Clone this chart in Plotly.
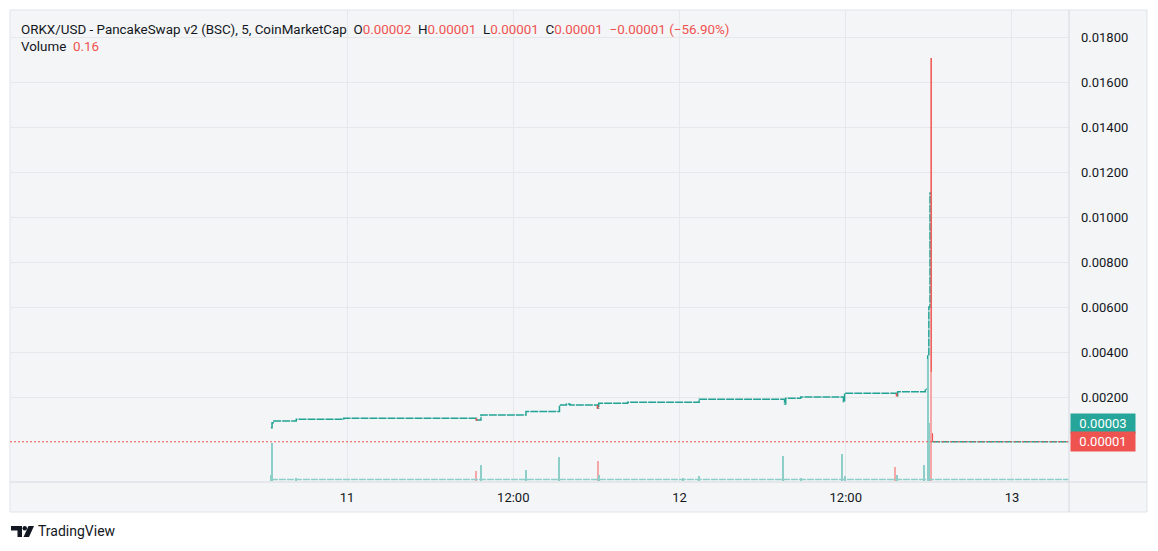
import plotly.graph_objects as go
import pandas as pd

# ---------------- data ----------------
# 5-minute candles, step changes of the close price (ORKX/USD)
price_times = [
    "2024-03-10 18:30", "2024-03-10 18:35", "2024-03-10 18:40", "2024-03-10 20:20",
    "2024-03-10 23:45", "2024-03-11 09:20", "2024-03-11 09:40", "2024-03-11 12:55",
    "2024-03-11 15:20", "2024-03-11 15:50", "2024-03-11 16:05", "2024-03-11 18:05",
    "2024-03-11 18:10", "2024-03-11 20:15", "2024-03-12 01:25", "2024-03-12 07:35",
    "2024-03-12 07:40", "2024-03-12 08:45", "2024-03-12 11:50", "2024-03-12 11:55",
    "2024-03-12 15:40", "2024-03-12 15:45", "2024-03-12 17:45", "2024-03-12 17:55",
    "2024-03-12 18:00", "2024-03-12 18:05",
]
price_close = [
    0.000636, 0.000858, 0.000933, 0.001009,
    0.001053, 0.000978, 0.001200, 0.001356,
    0.001644, 0.001689, 0.001644, 0.001511,
    0.001720, 0.001764, 0.001898, 0.001689,
    0.001942, 0.002000, 0.001791, 0.002164,
    0.002058, 0.002236, 0.002356, 0.003820,
    0.006000, 0.011070,
]
# candle direction: u = up (teal), d = down (red)
price_dir = [
    "u", "u", "u", "u", "u", "d", "u", "u", "u", "u", "u", "d", "u",
    "u", "u", "u", "u", "u", "u", "u", "d", "u", "u", "u", "u", "u",
]

# crash candle and the flat tail after it
crash_time = "2024-03-12 18:10"
crash_high = 0.01707
tail_times = ["2024-03-12 18:10", "2024-03-12 18:15", "2024-03-13 04:05"]
tail_close = [0.000356, 0.00001, 0.00001]
last_close = 0.00001

# volume (arbitrary units) of the visible bars
vol_times = [
    "2024-03-10 18:30", "2024-03-10 18:35", "2024-03-10 20:20", "2024-03-11 09:20",
    "2024-03-11 09:40", "2024-03-11 12:55", "2024-03-11 15:20", "2024-03-11 18:05",
    "2024-03-11 18:10", "2024-03-12 00:15", "2024-03-12 01:25", "2024-03-12 07:30",
    "2024-03-12 08:45", "2024-03-12 11:45", "2024-03-12 11:55", "2024-03-12 15:35",
    "2024-03-12 15:40", "2024-03-12 17:40", "2024-03-12 17:55", "2024-03-12 18:00",
    "2024-03-12 18:10",
]
vol_values = [6, 38, 3, 10, 16, 11, 24, 20, 6, 3, 5, 25, 3, 27, 5, 14, 6, 16, 122, 58, 109]
vol_dir = ["u", "u", "u", "d", "u", "u", "u", "d", "u", "u", "u", "u",
           "u", "u", "u", "d", "u", "u", "u", "u", "d"]
base_volume = 1.5
volume_span = ["2024-03-10 18:30", "2024-03-13 04:05"]

y_ticks = [0.002, 0.004, 0.006, 0.008, 0.010, 0.012, 0.014, 0.016, 0.018]
x_ticks = ["2024-03-11 00:00", "2024-03-11 12:00", "2024-03-12 00:00",
           "2024-03-12 12:00", "2024-03-13 00:00"]
x_tick_text = ["11", "12:00", "12", "12:00", "13"]
axis_labels = ["0.00003", "0.00001"]

# ---------------- styling ----------------
TEAL = "#22A294"
RED = "#EF5350"
TEAL_VOL = "#8DCFC8"
RED_VOL = "#F4A7A6"
PANEL = "#F4F5F7"
GRID = "#E6E8EC"
BORDER = "#E0E3EB"
TEXT = "#131722"
FONT = "Roboto"

PL, PT, PR, PB = 10, 10, 1069, 482
W, H = PR - PL, PB - PT


def px2x(px):
    return (px - PL) / W


def py2y(py):
    return (PB - py) / H


fig = go.Figure()

# volume
fig.add_trace(go.Scatter(
    x=volume_span, y=[base_volume, base_volume], mode="lines", yaxis="y2",
    line=dict(color=TEAL_VOL, width=1.5, dash="7px,1px"), hoverinfo="skip"))
fig.add_trace(go.Bar(
    x=pd.to_datetime(vol_times), y=vol_values, yaxis="y2",
    marker=dict(color=[TEAL_VOL if d == "u" else RED_VOL for d in vol_dir], line_width=0),
    width=5 * 60 * 1000 * 0.9))

# price step line (teal)
fig.add_trace(go.Scatter(
    x=price_times + [crash_time], y=price_close + [price_close[-1]], mode="lines",
    line=dict(color=TEAL, width=1.5, shape="hv", dash="8px,1px"), hoverinfo="skip"))

# red (down) candles
rx, ry = [], []
t_index = pd.to_datetime(price_times)
for i, d in enumerate(price_dir):
    if d == "d" and i > 0:
        t0 = t_index[i]
        t1 = t0 + pd.Timedelta(minutes=5)
        rx += [t0, t0, t1, None]
        ry += [price_close[i - 1], price_close[i], price_close[i], None]
fig.add_trace(go.Scatter(x=rx, y=ry, mode="lines", line=dict(color=RED, width=1.5),
                         hoverinfo="skip"))

# flat tail after the crash (teal/red dojis)
fig.add_trace(go.Scatter(
    x=tail_times[1:], y=tail_close[1:], mode="lines",
    line=dict(color=TEAL, width=1.5, dash="8px,1px"), hoverinfo="skip"))

# crash candle (red)
fig.add_trace(go.Scatter(
    x=[crash_time] + tail_times[:2], y=[crash_high] + tail_close[:2], mode="lines",
    line=dict(color=RED, width=1.5, shape="hv"), hoverinfo="skip"))

shapes = [
    # panel background + border
    dict(type="rect", xref="paper", yref="paper", x0=px2x(10), x1=px2x(1147),
         y0=py2y(512), y1=py2y(10), fillcolor=PANEL, line=dict(color=BORDER, width=1),
         layer="below"),
    # price axis separator
    dict(type="line", xref="paper", yref="paper", x0=1, x1=1, y0=py2y(512), y1=1,
         line=dict(color="#D6D9E0", width=1)),
    # time axis separator
    dict(type="line", xref="paper", yref="paper", x0=0, x1=px2x(1147), y0=0, y1=0,
         line=dict(color="#D6D9E0", width=1)),
    # last price line
    dict(type="line", xref="paper", yref="y", x0=0, x1=1, y0=last_close, y1=last_close,
         line=dict(color=RED, width=1, dash="2px,2px")),
    # TradingView logo
    dict(type="path", xref="paper", yref="paper", fillcolor="#131722", line_width=0,
         path=(f"M{px2x(11)},{py2y(526)} L{px2x(22)},{py2y(526)} L{px2x(22)},{py2y(537)} "
               f"L{px2x(17.5)},{py2y(537)} L{px2x(17.5)},{py2y(530.5)} L{px2x(11)},{py2y(530.5)} Z")),
    dict(type="circle", xref="paper", yref="paper", fillcolor="#131722", line_width=0,
         x0=px2x(22.5), x1=px2x(27), y0=py2y(530.5), y1=py2y(526)),
    dict(type="path", xref="paper", yref="paper", fillcolor="#131722", line_width=0,
         path=(f"M{px2x(28.5)},{py2y(526)} L{px2x(34)},{py2y(526)} L{px2x(29)},{py2y(537)} "
               f"L{px2x(23.5)},{py2y(537)} Z")),
]

R = f'<span style="color:{RED}">'
header = (f"ORKX/USD - PancakeSwap v2 (BSC), 5, CoinMarketCap&nbsp;&nbsp;O{R}0.00002</span>"
          f"&nbsp;&nbsp;H{R}0.00001</span>&nbsp;&nbsp;L{R}0.00001</span>&nbsp;&nbsp;C{R}0.00001</span>"
          f"&nbsp;&nbsp;{R}\u22120.00001 (\u221256.90%)</span>")

annotations = [
    dict(xref="paper", yref="paper", x=px2x(19), y=py2y(29), xanchor="left", yanchor="middle",
         text=header, showarrow=False, font=dict(family=FONT, size=13.4, color=TEXT)),
    dict(xref="paper", yref="paper", x=px2x(19), y=py2y(46), xanchor="left", yanchor="middle",
         text=f"Volume&nbsp;&nbsp;{R}0.16</span>", showarrow=False,
         font=dict(family=FONT, size=13.4, color=TEXT)),
    dict(xref="paper", yref="y", x=1, y=last_close, xanchor="left", yanchor="middle",
         xshift=1, yshift=18.5, text=axis_labels[0], showarrow=False, bgcolor="#26A69A",
         width=62, height=17, borderpad=1, align="center",
         font=dict(family=FONT, size=13, color="white")),
    dict(xref="paper", yref="y", x=1, y=last_close, xanchor="left", yanchor="middle",
         xshift=1, text=axis_labels[1], showarrow=False, bgcolor=RED,
         width=62, height=17, borderpad=1, align="center",
         font=dict(family=FONT, size=13, color="white")),
    dict(xref="paper", yref="paper", x=px2x(36), y=py2y(531), xanchor="left", yanchor="middle",
         text="TradingView", showarrow=False, font=dict(family=FONT, size=14, color=TEXT)),
]

fig.update_layout(
    width=1158, height=551, autosize=False,
    margin=dict(l=PL, r=1158 - PR, t=PT, b=551 - PB, pad=0),
    paper_bgcolor="white", plot_bgcolor="rgba(0,0,0,0)",
    showlegend=False, shapes=shapes, annotations=annotations,
    font=dict(family=FONT, size=13, color=TEXT),
    xaxis=dict(type="date", range=["2024-03-09 23:40", "2024-03-13 04:07"],
               tickvals=x_ticks, ticktext=x_tick_text, showgrid=True, gridcolor=GRID,
               gridwidth=1, zeroline=False, showline=False, ticks="", ticklabelstandoff=6,
               tickfont=dict(family=FONT, size=13, color=TEXT)),
    yaxis=dict(range=[-0.0017778, 0.0192], side="right", tickvals=y_ticks,
               ticktext=[f"{v:.5f}" for v in y_ticks], showgrid=True, gridcolor=GRID,
               gridwidth=1, zeroline=False, showline=False, ticks="", ticklabelstandoff=11,
               tickfont=dict(family=FONT, size=13, color=TEXT)),
    yaxis2=dict(overlaying="y", range=[-1, 471], visible=False),
    bargap=0,
)

fig.write_html("out.html")
